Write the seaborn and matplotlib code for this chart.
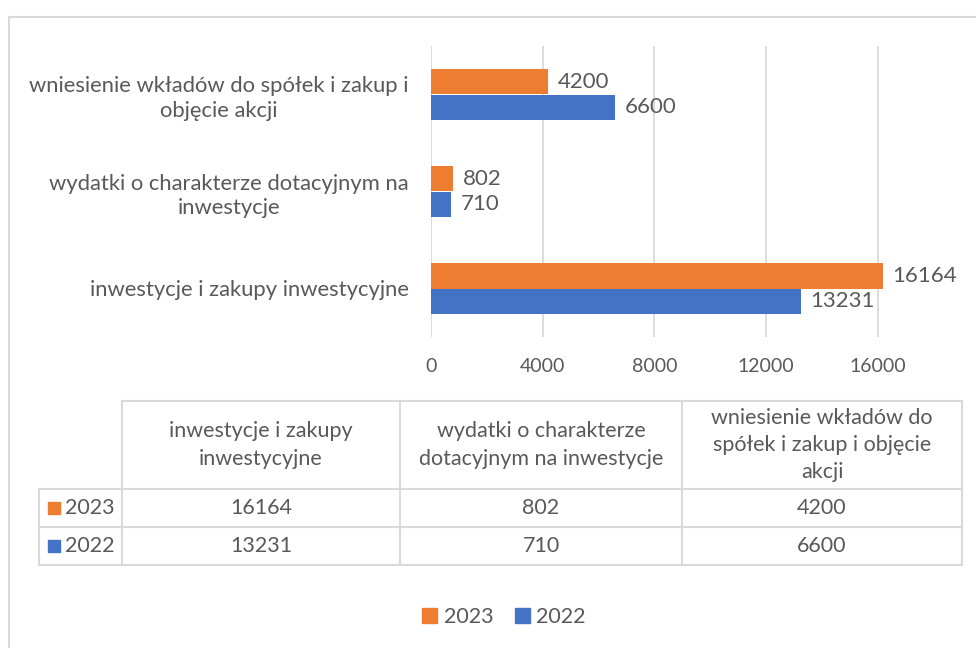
import matplotlib
matplotlib.use("Agg")
import matplotlib.pyplot as plt
from matplotlib.patches import Patch
import seaborn as sns
import pandas as pd

# ---- data ----
categories = [
    "wniesienie wkładów do spółek i zakup i objęcie akcji",
    "wydatki o charakterze dotacyjnym na inwestycje",
    "inwestycje i zakupy inwestycyjne",
]
axis_labels = [
    "wniesienie wkładów do spółek i zakup i\nobjęcie akcji",
    "wydatki o charakterze dotacyjnym na\ninwestycje",
    "inwestycje i zakupy inwestycyjne",
]
# table columns go in the opposite order to the bars
table_headers = [
    "inwestycje i zakupy\ninwestycyjne",
    "wydatki o charakterze\ndotacyjnym na inwestycje",
    "wniesienie wkładów do\nspółek i zakup i objęcie\nakcji",
]
years = ["2023", "2022"]
values_2023 = [4200, 802, 16164]
values_2022 = [6600, 710, 13231]
x_ticks = [0, 4000, 8000, 12000, 16000]

ORANGE = "#ED7D31"
BLUE = "#4472C4"
TXT = "#595959"
GRID = "#D9D9D9"

sns.set_theme(style="white")
plt.rcParams["font.family"] = ["Lato", "DejaVu Sans"]

df = pd.DataFrame({
    "cat": categories * 2,
    "year": [years[0]] * 3 + [years[1]] * 3,
    "value": values_2023 + values_2022,
})

W, H = 976, 648
fig = plt.figure(figsize=(W / 100, H / 100), dpi=100)

# overlay in pixel coords for frame + data table
ov = fig.add_axes([0, 0, 1, 1], zorder=0)
ov.set_xlim(0, W)
ov.set_ylim(H, 0)
ov.axis("off")

# -- main bar chart --
ax = fig.add_axes([431 / W, 1 - 337 / H, 535 / W, 291 / H], zorder=2)
ax.patch.set_alpha(0)
sns.barplot(data=df, y="cat", x="value", hue="year", order=categories,
            hue_order=years, palette=[ORANGE, BLUE], saturation=1,
            width=0.52, gap=0, orient="h", linewidth=0, legend=False, ax=ax)
ax.set_xlim(0, 19150)
ax.set_ylim(2.5, -0.5)
ax.set_xticks(x_ticks)
ax.set_xticklabels([str(t) for t in x_ticks], fontsize=14, color=TXT)
ax.set_yticks(range(len(categories)))
ax.set_yticklabels(axis_labels, fontsize=15.8, color=TXT, linespacing=1.3)
for t in ax.get_yticklabels():
    t.set_multialignment("center")
ax.tick_params(axis="x", length=0, pad=15)
ax.tick_params(axis="y", length=0, pad=16)
ax.set_xlabel("")
ax.set_ylabel("")
for s in ax.spines.values():
    s.set_visible(False)
for t in x_ticks:
    ax.axvline(t, color=GRID, lw=1.3, zorder=0)

for cont in ax.containers:
    ax.bar_label(cont, fmt="%d", padding=7, fontsize=16, color=TXT)

# -- frame --
ov.plot([9, 9, W], [H, 17, 17], color=GRID, lw=1.5)

# -- data table --
col_x = [39, 122, 400, 682, 962]
row_y = [401, 489, 527, 565]
lc = GRID
ov.plot([col_x[1], col_x[-1]], [row_y[0], row_y[0]], color=lc, lw=1.5)
for y in row_y[1:]:
    ov.plot([col_x[0], col_x[-1]], [y, y], color=lc, lw=1.5)
ov.plot([col_x[0], col_x[0]], [row_y[1], row_y[-1]], color=lc, lw=1.5)
for x in col_x[1:]:
    ov.plot([x, x], [row_y[0], row_y[-1]], color=lc, lw=1.5)

for i, head in enumerate(table_headers):
    cx = (col_x[i + 1] + col_x[i + 2]) / 2
    ov.text(cx, (row_y[0] + row_y[1]) / 2, head, ha="center", va="center",
            fontsize=15.5, color=TXT, linespacing=1.45)

table_rows = [values_2023[::-1], values_2022[::-1]]
for r, (yr, vals, col) in enumerate(zip(years, table_rows, [ORANGE, BLUE])):
    cy = (row_y[r + 1] + row_y[r + 2]) / 2
    ov.plot([54], [cy], marker="s", ms=9, color=col, mec=col)
    ov.text(65, cy, yr, ha="left", va="center", fontsize=15.5, color=TXT)
    for i, v in enumerate(vals):
        cx = (col_x[i + 1] + col_x[i + 2]) / 2
        ov.text(cx, cy, str(v), ha="center", va="center", fontsize=15.5, color=TXT)

# -- legend --
handles = [Patch(color=ORANGE, label=years[0]), Patch(color=BLUE, label=years[1])]
fig.legend(handles=handles, loc="center", bbox_to_anchor=(504 / W, 1 - 617 / H),
           ncol=2, frameon=False, fontsize=15.5, labelcolor=TXT,
           handlelength=0.7, handleheight=0.7, handletextpad=0.3,
           columnspacing=1.0)

fig.savefig("out.png", dpi=100, facecolor="white")
